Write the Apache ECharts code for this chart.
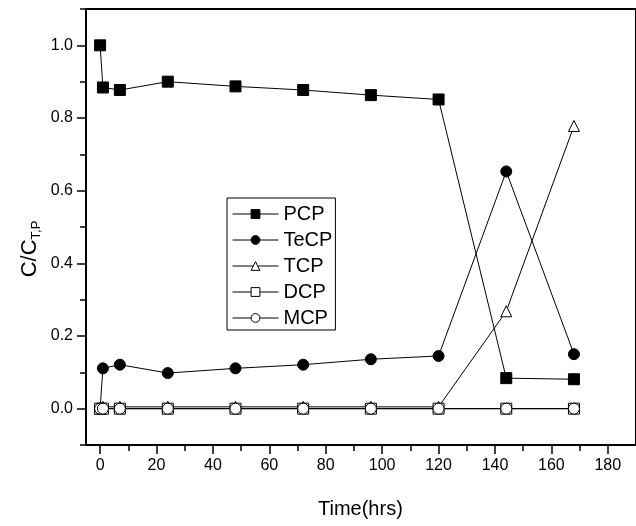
<!DOCTYPE html>
<html><head><meta charset="utf-8">
<script src="https://cdn.jsdelivr.net/npm/echarts@6/dist/echarts.min.js"></script>
<style>html,body{margin:0;padding:0;background:#fff}#c{width:636px;height:526px}</style>
</head><body><div id="c"></div>
<script>
const times = [0, 1, 7, 24, 48, 72, 96, 120, 144, 168];
const pcp  = [1.0, 0.884, 0.877, 0.900, 0.887, 0.877, 0.863, 0.851, 0.084, 0.081];
const tecp = [0, 0.111, 0.121, 0.098, 0.111, 0.121, 0.136, 0.145, 0.653, 0.150];
const tcp  = [0, 0.005, 0.005, 0.005, 0.005, 0.005, 0.005, 0.005, 0.268, 0.778];
const dcp  = [0, 0, 0, 0, 0, 0, 0, 0, 0, 0];
const mcp  = [0, 0, 0, 0, 0, 0, 0, 0, 0, 0];
const seriesNames = ['PCP', 'TeCP', 'TCP', 'DCP', 'MCP'];
const xMajor = [0, 20, 40, 60, 80, 100, 120, 140, 160, 180];
const xMinor = [10, 30, 50, 70, 90, 110, 130, 150, 170];
const yMajor = [0, 0.2, 0.4, 0.6, 0.8, 1.0];
const yMinor = [-0.1, 0.1, 0.3, 0.5, 0.7, 0.9, 1.1];

const FONT = '"Liberation Sans", Arial, sans-serif';
const chart = echarts.init(document.getElementById('c'), null, {renderer: 'canvas'});
const symbols = ['rect', 'circle', 'triangle', 'rect', 'circle'];
const fills = ['#000', '#000', '#fff', '#fff', '#fff'];
const values = [pcp, tecp, tcp, dcp, mcp];
const axLine = {show: true, onZero: false, lineStyle: {color: '#000', width: 2}};
function xAx(ticks, len, labels) {
  return {
    type: 'value', min: -5, max: 190, position: 'bottom', gridIndex: 0,
    axisLine: labels ? axLine : {show: false, onZero: false},
    splitLine: {show: false},
    axisTick: {show: true, inside: false, length: len, customValues: ticks, lineStyle: {color: '#000', width: 1.5}},
    axisLabel: labels ? {show: true, customValues: ticks, margin: 13, color: '#000', fontSize: 16, fontFamily: FONT} : {show: false}
  };
}
function yAx(ticks, len, labels) {
  return {
    type: 'value', min: -0.1, max: 1.1, position: 'left', gridIndex: 0,
    axisLine: labels ? axLine : {show: false, onZero: false},
    splitLine: {show: false},
    axisTick: {show: true, inside: false, length: len, customValues: ticks, lineStyle: {color: '#000', width: 1.5}},
    axisLabel: labels ? {show: true, customValues: ticks, margin: 13, color: '#000', fontSize: 16, fontFamily: FONT,
      formatter: v => v.toFixed(1)} : {show: false}
  };
}
chart.setOption({
  animation: false,
  backgroundColor: '#fff',
  grid: {left: 86, top: 9, width: 554, height: 436, show: true, borderColor: '#000', borderWidth: 2, backgroundColor: 'transparent'},
  xAxis: [xAx(xMajor, 9, true), xAx(xMinor, 6, false)],
  yAxis: [yAx(yMajor, 9, true), yAx(yMinor, 6, false)],
  legend: {
    orient: 'vertical', left: 227, top: 198,
    data: seriesNames,
    itemWidth: 46, itemHeight: 11, itemGap: 6,
    padding: [6, 3, 2, 5],
    borderColor: '#000', borderWidth: 1,
    itemStyle: {borderWidth: 1},
    lineStyle: {width: 1},
    textStyle: {color: '#000', fontSize: 20, fontFamily: FONT},
    selectedMode: false
  },
  graphic: [
    {type: 'text', left: 318, top: 499, style: {text: 'Time(hrs)', fill: '#000', font: '20px ' + FONT}},
    {type: 'text', x: 30, y: 249, rotation: Math.PI / 2,
     style: {text: '{a|C/C}{b|T,P}', align: 'center', verticalAlign: 'middle',
       rich: {a: {fontSize: 22, fontFamily: FONT, fill: '#000', lineHeight: 24},
              b: {fontSize: 13, fontFamily: FONT, fill: '#000', padding: [12, 0, 0, 0]}}}}
  ],
  series: seriesNames.map((name, k) => ({
    name: name, type: 'line', xAxisIndex: 0, yAxisIndex: 0,
    data: times.map((t, i) => [t, values[k][i]]),
    symbol: symbols[k], symbolSize: 11, showSymbol: true,
    lineStyle: {color: '#000', width: 1},
    itemStyle: {color: fills[k], borderColor: '#000', borderWidth: 1},
    emphasis: {disabled: true},
    z: 2 + k
  }))
});
</script></body></html>
